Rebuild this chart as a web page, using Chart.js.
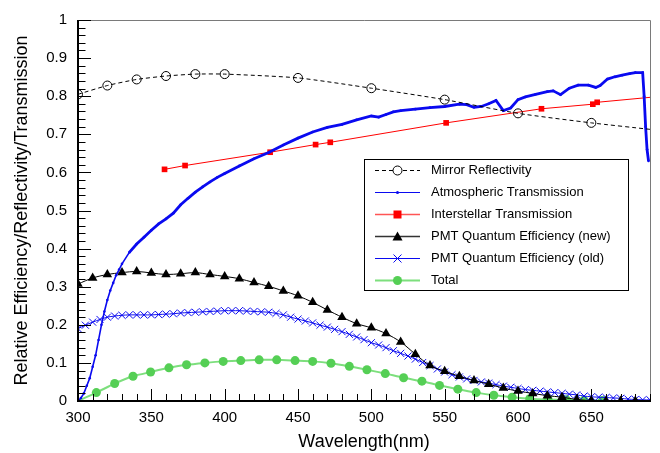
<!DOCTYPE html>
<html>
<head>
<meta charset="utf-8">
<script src="https://cdn.jsdelivr.net/npm/chart.js@4/dist/chart.umd.min.js"></script>
<style>
  html, body { margin: 0; padding: 0; background: #fff; }
  #wrap { width: 660px; height: 453px; position: relative; }
</style>
</head>
<body>
<div id="wrap"><canvas id="c" width="660" height="453"></canvas></div>
<script>
// ---------- data ----------
const seriesNames = [
  'Mirror Reflectivity',
  'Atmospheric Transmission',
  'Interstellar Transmission',
  'PMT Quantum Efficiency (new)',
  'PMT Quantum Efficiency (old)',
  'Total'
];

const mirrorWl  = [300, 320, 340, 360, 380, 400, 450, 500, 550, 600, 650, 690];
const mirrorVal = [0.805, 0.828, 0.844, 0.853, 0.858, 0.858, 0.848, 0.821, 0.791, 0.755, 0.730, 0.713];

const atmWl  = [300, 302, 304, 306, 308, 310, 312, 314, 316, 318, 320, 322, 324, 326, 328, 330, 335, 340, 345, 350,
                355, 360, 365, 370, 375, 380, 385, 390, 395, 400, 410, 420, 430, 440, 450, 460, 470, 480, 490, 500,
                505, 510, 515, 520, 530, 540, 550, 560, 565, 570, 575, 580, 585, 590, 595, 600, 605, 612, 620, 624,
                629, 635, 641, 648, 653, 656, 661, 666, 671, 676, 680, 685, 686, 687, 688, 689];
const atmVal = [0.000, 0.008, 0.020, 0.040, 0.060, 0.090, 0.120, 0.160, 0.200, 0.235, 0.265, 0.290, 0.310, 0.330, 0.345, 0.360, 0.390, 0.412, 0.430, 0.448,
                0.465, 0.478, 0.493, 0.515, 0.532, 0.548, 0.562, 0.575, 0.587, 0.597, 0.617, 0.636, 0.652, 0.672, 0.690, 0.706, 0.718, 0.726, 0.738, 0.748,
                0.745, 0.752, 0.759, 0.762, 0.766, 0.770, 0.773, 0.779, 0.778, 0.771, 0.773, 0.780, 0.789, 0.762, 0.769, 0.791, 0.798, 0.805, 0.812, 0.814,
                0.804, 0.821, 0.829, 0.829, 0.823, 0.828, 0.845, 0.851, 0.855, 0.859, 0.862, 0.862, 0.800, 0.720, 0.660, 0.630];

const ismWl  = [359, 373, 431, 462, 472, 551, 616, 651, 654, 690];
const ismVal = [0.608, 0.618, 0.653, 0.673, 0.679, 0.730, 0.767, 0.779, 0.784, 0.797];

const pmtNewWl  = [300, 310, 320, 330, 340, 350, 360, 370, 380, 390, 400, 410, 420, 430, 440, 450, 460, 470, 480, 490,
                   500, 510, 520, 530, 540, 550, 560, 570, 580, 590, 600, 610, 620, 630, 640, 650, 660, 670, 680];
const pmtNewVal = [0.307, 0.323, 0.332, 0.337, 0.340, 0.336, 0.332, 0.334, 0.337, 0.332, 0.327, 0.321, 0.311, 0.301, 0.289, 0.276, 0.259, 0.239, 0.220, 0.203,
                   0.192, 0.177, 0.155, 0.123, 0.093, 0.078, 0.065, 0.054, 0.044, 0.034, 0.026, 0.020, 0.014, 0.010, 0.004, 0.001, 0.000, 0.000, 0.000];

const pmtOldWl  = [300, 305, 310, 315, 320, 325, 330, 335, 340, 345, 350, 355, 360, 365, 370, 375, 380, 385, 390, 395,
                   400, 405, 410, 415, 420, 425, 430, 435, 440, 445, 450, 455, 460, 465, 470, 475, 480, 485, 490, 495,
                   500, 505, 510, 515, 520, 525, 530, 535, 540, 545, 550, 555, 560, 565, 570, 575, 580, 585, 590, 595,
                   600, 605, 610, 615, 620, 625, 630, 635, 640, 645, 650, 655, 660, 665, 670, 675, 680, 685, 690];
const pmtOldVal = [0.190, 0.199, 0.207, 0.214, 0.220, 0.223, 0.225, 0.226, 0.226, 0.226, 0.226, 0.227, 0.228, 0.229, 0.231, 0.232, 0.233, 0.234, 0.235, 0.236,
                   0.237, 0.237, 0.237, 0.236, 0.235, 0.234, 0.233, 0.230, 0.226, 0.220, 0.215, 0.210, 0.205, 0.199, 0.194, 0.188, 0.182, 0.175, 0.168, 0.161,
                   0.153, 0.147, 0.140, 0.132, 0.125, 0.118, 0.110, 0.101, 0.093, 0.084, 0.076, 0.069, 0.063, 0.058, 0.054, 0.050, 0.047, 0.043, 0.039, 0.036,
                   0.033, 0.030, 0.028, 0.026, 0.024, 0.022, 0.020, 0.018, 0.016, 0.013, 0.011, 0.010, 0.009, 0.008, 0.007, 0.005, 0.004, 0.003, 0.003];

const totalWl  = [300, 312.5, 325, 337.5, 349.5, 362, 374, 386.5, 399, 411, 423.5, 435.5, 448, 460, 472.5, 485, 497, 509.5, 522, 534.5,
                  546.5, 559, 571.5, 583.5, 596, 608, 620.5, 633, 645, 657.5];
const totalVal = [0.000, 0.022, 0.046, 0.065, 0.076, 0.087, 0.095, 0.100, 0.104, 0.106, 0.108, 0.108, 0.106, 0.104, 0.099, 0.091, 0.082, 0.072, 0.061, 0.052,
                  0.041, 0.031, 0.022, 0.015, 0.010, 0.006, 0.004, 0.003, 0.002, 0.001];

const xTicksMajor = [300, 350, 400, 450, 500, 550, 600, 650];
const yTicksMajor = [0, 0.1, 0.2, 0.3, 0.4, 0.5, 0.6, 0.7, 0.8, 0.9, 1];

// ---------- helpers ----------
const pts = (xs, ys) => xs.map((x, i) => ({ x: x, y: ys[i] }));
const lastHidden = (n, r) => Array.from({ length: n }, (_, i) => (i === n - 1 ? 0 : r));
const firstHidden = (n, r) => Array.from({ length: n }, (_, i) => (i === 0 ? 0 : r));

const BLUE = '#0a0af0';
const RED = '#ff0000';
const GREEN_PT = '#55cf55';
const GREEN_LN = '#7ddf7d';

const FONT = "'Liberation Sans', Arial, Helvetica, sans-serif";
Chart.defaults.font.family = FONT;
Chart.defaults.color = '#000';

// inner ticks + frame
const frameTicks = {
  id: 'frameTicks',
  afterDatasetsDraw(chart) {
    const { ctx, chartArea: a, scales: { x, y } } = chart;
    ctx.save();
    // top and right frame (gray)
    ctx.strokeStyle = '#7a7a7a';
    ctx.lineWidth = 1;
    ctx.beginPath();
    ctx.moveTo(a.left, a.top + 0.5); ctx.lineTo(a.right + 0.5, a.top + 0.5);
    ctx.lineTo(a.right + 0.5, a.bottom);
    ctx.stroke();
    // ticks
    ctx.strokeStyle = '#000';
    ctx.lineWidth = 1;
    ctx.beginPath();
    for (let k = 0; k <= 50; k++) {
      const v = k / 50;
      const py = Math.round(y.getPixelForValue(v)) + 0.5;
      const len = (k % 5 === 0) ? 13 : 7.5;
      ctx.moveTo(a.left, py); ctx.lineTo(a.left + len, py);
    }
    for (let w = 300; w <= 690; w += 10) {
      const px = Math.round(x.getPixelForValue(w)) + 0.5;
      const len = (w % 50 === 0) ? 12 : 7;
      ctx.moveTo(px, a.bottom); ctx.lineTo(px, a.bottom - len);
    }
    ctx.stroke();
    // left and bottom axes
    ctx.lineWidth = 2;
    ctx.beginPath();
    ctx.moveTo(a.left, a.top); ctx.lineTo(a.left, a.bottom);
    ctx.lineTo(a.right + 1, a.bottom);
    ctx.stroke();
    ctx.restore();
  }
};

function drawMarker(ctx, style, cx, cy, color) {
  ctx.save();
  ctx.fillStyle = color; ctx.strokeStyle = color; ctx.lineWidth = 1;
  if (style === 'circleOpen') {
    ctx.beginPath(); ctx.arc(cx, cy, 4.5, 0, Math.PI * 2); ctx.stroke();
  } else if (style === 'dot') {
    ctx.beginPath(); ctx.arc(cx, cy, 1.5, 0, Math.PI * 2); ctx.fill();
  } else if (style === 'square') {
    ctx.fillRect(cx - 4, cy - 4, 8, 8);
  } else if (style === 'triangle') {
    ctx.beginPath(); ctx.moveTo(cx, cy - 5); ctx.lineTo(cx + 5, cy + 4); ctx.lineTo(cx - 5, cy + 4); ctx.closePath(); ctx.fill();
  } else if (style === 'x') {
    ctx.beginPath(); ctx.moveTo(cx - 4, cy - 4); ctx.lineTo(cx + 4, cy + 4); ctx.moveTo(cx + 4, cy - 4); ctx.lineTo(cx - 4, cy + 4); ctx.stroke();
  } else if (style === 'circle') {
    ctx.beginPath(); ctx.arc(cx, cy, 4.5, 0, Math.PI * 2); ctx.fill();
  }
  ctx.restore();
}

const legendBox = {
  id: 'legendBox',
  afterDraw(chart) {
    const { ctx } = chart;
    const entries = [
      { line: '#000', dash: [4, 3], w: 1, marker: 'circleOpen', mc: '#000' },
      { line: BLUE, dash: [], w: 1, marker: 'dot', mc: BLUE },
      { line: '#ff5555', dash: [], w: 1.5, marker: 'square', mc: RED },
      { line: '#333', dash: [], w: 1.5, marker: 'triangle', mc: '#000' },
      { line: BLUE, dash: [], w: 1, marker: 'x', mc: BLUE },
      { line: GREEN_LN, dash: [], w: 2, marker: 'circle', mc: GREEN_PT }
    ];
    ctx.save();
    ctx.fillStyle = '#fff';
    ctx.fillRect(364.5, 159.5, 264, 131);
    ctx.strokeStyle = '#000'; ctx.lineWidth = 1;
    ctx.strokeRect(364.5, 159.5, 264, 131);
    ctx.font = '13px ' + FONT;
    ctx.textBaseline = 'middle';
    entries.forEach((e, i) => {
      const yy = 170.5 + i * 22;
      ctx.save();
      ctx.strokeStyle = e.line; ctx.lineWidth = e.w; ctx.setLineDash(e.dash);
      ctx.beginPath(); ctx.moveTo(375, yy); ctx.lineTo(420, yy); ctx.stroke();
      ctx.restore();
      if (e.marker === 'circleOpen') { ctx.fillStyle = '#fff'; ctx.beginPath(); ctx.arc(397.5, yy, 4.5, 0, Math.PI * 2); ctx.fill(); }
      drawMarker(ctx, e.marker, 397.5, yy, e.mc);
      ctx.fillStyle = '#000';
      ctx.fillText(seriesNames[i], 431, yy);
    });
    ctx.restore();
  }
};

new Chart(document.getElementById('c'), {
  type: 'line',
  data: {
    datasets: [
      {
        label: seriesNames[0], data: pts(mirrorWl, mirrorVal), order: 1,
        borderColor: '#000', borderWidth: 1, borderDash: [4, 3], tension: 0.2,
        pointStyle: 'circle', pointRadius: lastHidden(mirrorWl.length, 4.5),
        pointBackgroundColor: 'rgba(255,255,255,0)', pointBorderColor: '#000', pointBorderWidth: 1
      },
      {
        label: seriesNames[1], data: pts(atmWl, atmVal), order: 2,
        borderColor: BLUE, borderWidth: 2.8, tension: 0,
        segment: { borderWidth: c => (c.p0.parsed.x < 332 ? 1.6 : 2.8) },
        pointStyle: 'circle', pointRadius: 1.3, pointBackgroundColor: BLUE, pointBorderWidth: 0
      },
      {
        label: seriesNames[2], data: pts(ismWl, ismVal), order: 3,
        borderColor: RED, borderWidth: 1, tension: 0,
        pointStyle: 'rect', pointRadius: lastHidden(ismWl.length, 4),
        pointBackgroundColor: RED, pointBorderColor: RED, pointBorderWidth: 0
      },
      {
        label: seriesNames[3], data: pts(pmtNewWl, pmtNewVal), order: 4,
        borderColor: '#000', borderWidth: 1, tension: 0.3,
        pointStyle: 'triangle', pointRadius: 5.5,
        pointBackgroundColor: '#000', pointBorderColor: '#000', pointBorderWidth: 0
      },
      {
        label: seriesNames[4], data: pts(pmtOldWl, pmtOldVal), order: 5,
        borderColor: BLUE, borderWidth: 1, tension: 0.3,
        pointStyle: 'crossRot', pointRadius: 5,
        pointBorderColor: BLUE, pointBorderWidth: 1
      },
      {
        label: seriesNames[5], data: pts(totalWl, totalVal), order: 6,
        borderColor: GREEN_LN, borderWidth: 2, tension: 0.2,
        pointStyle: 'circle', pointRadius: firstHidden(totalWl.length, 4.5),
        pointBackgroundColor: GREEN_PT, pointBorderColor: GREEN_PT, pointBorderWidth: 0
      }
    ]
  },
  options: {
    responsive: false,
    animation: false,
    devicePixelRatio: 1,
    layout: { padding: { top: 14, right: 10, left: 0, bottom: 0 } },
    plugins: { legend: { display: false }, tooltip: { enabled: false } },
    scales: {
      x: {
        type: 'linear', min: 300, max: 690,
        afterFit: s => { s.height = 52; },
        afterBuildTicks: s => { s.ticks = xTicksMajor.map(v => ({ value: v })); },
        ticks: { autoSkip: false, maxRotation: 0, padding: 8, font: { size: 15 }, color: '#000', callback: v => String(v) },
        grid: { display: false, drawTicks: false },
        border: { display: false },
        title: { display: true, text: 'Wavelength(nm)', font: { size: 18 }, color: '#000', padding: { top: 0, bottom: 0 } }
      },
      y: {
        type: 'linear', min: 0, max: 1,
        afterFit: s => { s.width = 78; },
        afterBuildTicks: s => { s.ticks = yTicksMajor.map(v => ({ value: v })); },
        ticks: { autoSkip: false, padding: 11, font: { size: 15 }, color: '#000', callback: v => String(+v.toFixed(1)) },
        grid: { display: false, drawTicks: false },
        border: { display: false },
        title: { display: true, text: 'Relative Efficiency/Reflectivity/Transmission', font: { size: 18 }, color: '#000', padding: { top: 11, bottom: 0 } }
      }
    }
  },
  plugins: [frameTicks, legendBox]
});
</script>
</body>
</html>
